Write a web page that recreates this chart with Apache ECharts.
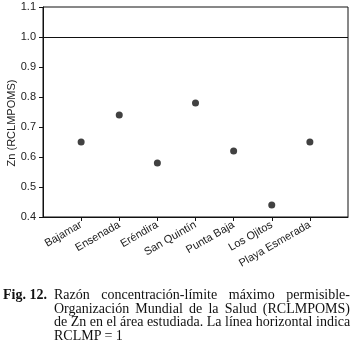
<!DOCTYPE html>
<html>
<head>
<meta charset="utf-8">
<script src="https://cdn.jsdelivr.net/npm/echarts@6/dist/echarts.min.js"></script>
<style>
    body { margin: 0; background: #fff; }
    #chart { position: absolute; left: 0; top: 0; width: 352px; height: 350px; }
    #caption {
        position: absolute; left: 3px; top: 288px; width: 347px;
        font-family: "Liberation Serif", "DejaVu Serif", serif;
        font-size: 14px; line-height: 13.5px; color: #111;
    }
    #caption .fig { position: absolute; left: 0; top: 0; font-weight: bold; }
    #caption .line {
        margin-left: 51px; width: 296px; white-space: nowrap;
        text-align: justify; text-align-last: justify;
    }
    #caption .line.last { text-align-last: left; }
</style>
</head>
<body>
<div id="chart"></div>
<div id="caption">
    <span class="fig">Fig. 12.</span>
    <div class="line">Razón concentración-límite máximo permisible-</div>
    <div class="line">Organización Mundial de la Salud (RCLMPOMS)</div>
    <div class="line">de Zn en el área estudiada. La línea horizontal indica</div>
    <div class="line last">RCLMP = 1</div>
</div>
<script>
// sites, padded with an empty slot at each end
var sites = ['', 'Bajamar', 'Ensenada', 'Eréndira', 'San Quintín', 'Punta Baja', 'Los Ojitos', 'Playa Esmerada', '']
var zn = ['-', 0.65, 0.74, 0.58, 0.78, 0.62, 0.44, 0.65, '-']
var limit = 1.0

var myChart = echarts.init(document.getElementById('chart'))

var option = {
    animation: false,
    grid: {
        left: 43,
        right: 4,
        top: 7,
        bottom: 133,
        outerBoundsMode: 'none',
        containLabel: false,
        show: true,
        borderColor: '#111',
        borderWidth: 1,
    },
    xAxis: {
        type: 'category',
        data: sites,
        boundaryGap: false,
        axisLine: { lineStyle: { color: '#111', width: 1 } },
        axisTick: {
            length: 4,
            alignWithLabel: true,
            interval: function (i) { return i > 0 && i < sites.length - 1 },
            lineStyle: { color: '#111' },
        },
        axisLabel: {
            interval: 0,
            rotate: 30,
            margin: 7,
            fontFamily: 'Liberation Sans',
            fontSize: 11,
            color: '#222',
        },
        splitLine: { show: false },
    },
    yAxis: {
        type: 'value',
        min: 0.4,
        max: 1.1,
        interval: 0.1,
        name: 'Zn (RCLMPOMS)',
        nameLocation: 'middle',
        nameGap: 26,
        nameMoveOverlap: false,
        nameTextStyle: {
            fontFamily: 'Liberation Sans',
            fontSize: 11,
            color: '#222',
            padding: [0, 0, 0, -22],
        },
        axisLine: { show: true, lineStyle: { color: '#111', width: 1 } },
        axisTick: { show: true, length: 4, lineStyle: { color: '#111' } },
        axisLabel: {
            margin: 7,
            fontFamily: 'Liberation Sans',
            fontSize: 11,
            color: '#222',
            formatter: function (v) { return v.toFixed(1) },
        },
        splitLine: { show: false },
    },
    series: [
        {
            type: 'scatter',
            data: zn,
            symbolSize: 7,
            itemStyle: { color: '#111' },
            markLine: {
                silent: true,
                symbol: 'none',
                label: { show: false },
                lineStyle: { color: '#111', width: 1, type: 'solid' },
                data: [{ yAxis: limit }],
            },
        },
    ],
}

myChart.setOption(option)
</script>
</body>
</html>
